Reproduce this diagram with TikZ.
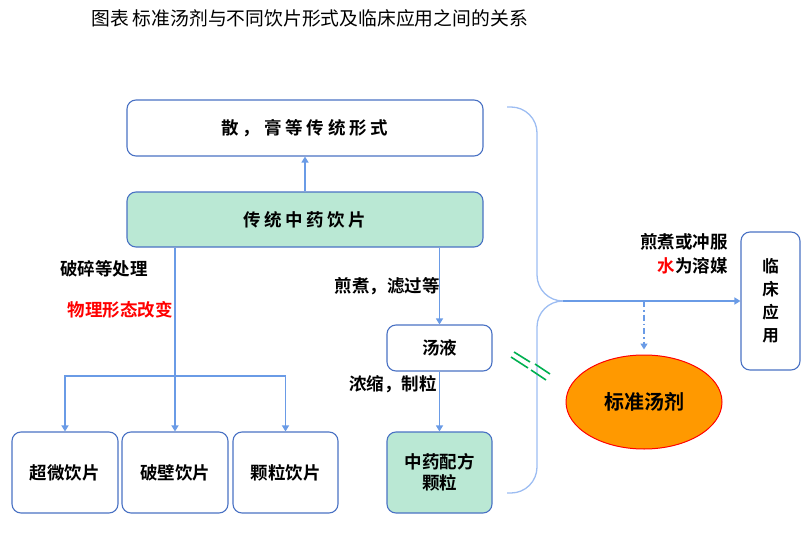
\documentclass[tikz,border=0pt]{standalone}
\usepackage{fontspec}
\setmainfont{Noto Sans CJK SC}
\newfontfamily\cjkb{Noto Sans CJK SC Bold}
\usetikzlibrary{arrows.meta,shapes.geometric}
\definecolor{boxblue}{HTML}{4A72C4}
\definecolor{lineblue}{HTML}{6A9BE6}
\definecolor{braceblue}{HTML}{9DBDF2}
\definecolor{mint}{HTML}{BAE8D4}
\definecolor{orangefill}{HTML}{FF9900}
\definecolor{markgreen}{HTML}{00B050}
\tikzset{
  box/.style={draw=boxblue, line width=1.1pt, rounded corners=9pt, fill=white, inner sep=0pt,
    font=\cjkb\fontsize{17.5}{21}\selectfont, align=center},
  greenbox/.style={box, fill=mint},
  lbl/.style={font=\cjkb\fontsize{17.5}{21}\selectfont, inner sep=0pt},
  arr/.style={draw=lineblue, line width=1.3pt, -{Triangle[length=6pt,width=7pt]}},
  brace/.style={draw=braceblue, line width=1.3pt, rounded corners=26pt},
  greenmark/.style={draw=markgreen, line width=1.6pt},
}
\begin{document}
\begin{tikzpicture}[x=1pt,y=-1pt]
\useasboundingbox (0,0) rectangle (812,554);
\node[anchor=west, inner sep=0pt, font=\fontsize{18.8}{22}\selectfont] (title) at (91,18) {图表 标准汤剂与不同饮片形式及临床应用之间的关系};

\node[box, minimum width=356pt, minimum height=56pt, font=\cjkb\fontsize{17.5}{21}\selectfont\addfontfeature{LetterSpace=22}] (top) at (305,128) {散，膏等传统形式};
\node[greenbox, minimum width=356pt, minimum height=55pt, font=\cjkb\fontsize{17.5}{21}\selectfont\addfontfeature{LetterSpace=20}] (green) at (305,219.5) {传统中药饮片};

\node[box, minimum width=106pt, minimum height=81pt] (b1) at (65,472.5) {超微饮片};
\node[box, minimum width=106pt, minimum height=81pt] (b2) at (175,472.5) {破壁饮片};
\node[box, minimum width=105pt, minimum height=81pt] (b3) at (285.5,472.5) {颗粒饮片};

\node[box, minimum width=105pt, minimum height=46pt] (tang) at (439.5,348) {汤液};
\node[greenbox, minimum width=105pt, minimum height=81pt] (gran) at (439.5,472.5) {中药配方\\颗粒};

\node[ellipse, draw=red, line width=1pt, fill=orangefill, minimum width=156pt, minimum height=94pt, inner sep=0pt, font=\cjkb\fontsize{20}{24}\selectfont] (ell) at (644,402) {标准汤剂};

\node[box, minimum width=59pt, minimum height=138pt, font=\cjkb\fontsize{16.5}{23}\selectfont] (clinic) at (770.5,301) {临\\床\\应\\用};

% labels
\node[lbl] (l1) at (104,269) {破碎等处理};
\node[lbl, text=red] (l2) at (120,310) {物理形态改变};
\node[lbl] (l3) at (387,286) {煎煮，滤过等};
\node[lbl] (l4) at (393,384) {浓缩，制粒};
\node[lbl, anchor=east] (l5) at (728,242) {煎煮或冲服};
\node[lbl, anchor=east] (l6) at (728,266) {\textcolor{red}{水}为溶媒};

% connectors
\draw[arr] (green.north) -- (top.south);
\draw[arr] (green.south -| b2.north) -- (b2.north);
\coordinate (j) at (175,376);
\draw[arr] (j) -| (b1.north);
\draw[arr] (j) -| (b3.north);
\draw[arr] (green.south -| tang.north) -- (tang.north);
\draw[arr] (tang.south) -- (gran.north);

% braces
\coordinate (bt) at (507,107);
\coordinate (bm) at (563,301);
\coordinate (bb) at (507,493);
\draw[brace] (bt) -| (537,301) -- (bm);
\draw[brace] (bm) -| (537,493) -- (bb);
\draw[arr, draw=lineblue] (bm) -- (clinic.west);
\coordinate (d) at (644,301);
\draw[arr, dash pattern=on 6pt off 3pt on 1.5pt off 3pt, shorten >=5pt] (d) -- (ell.north);

% green marks
\draw[greenmark] (514,352) -- (530,362);
\draw[greenmark] (511,357) -- (528,368);
\draw[greenmark] (535,364) -- (550,374);
\draw[greenmark] (531,370) -- (546,380);
\end{tikzpicture}
\end{document}
